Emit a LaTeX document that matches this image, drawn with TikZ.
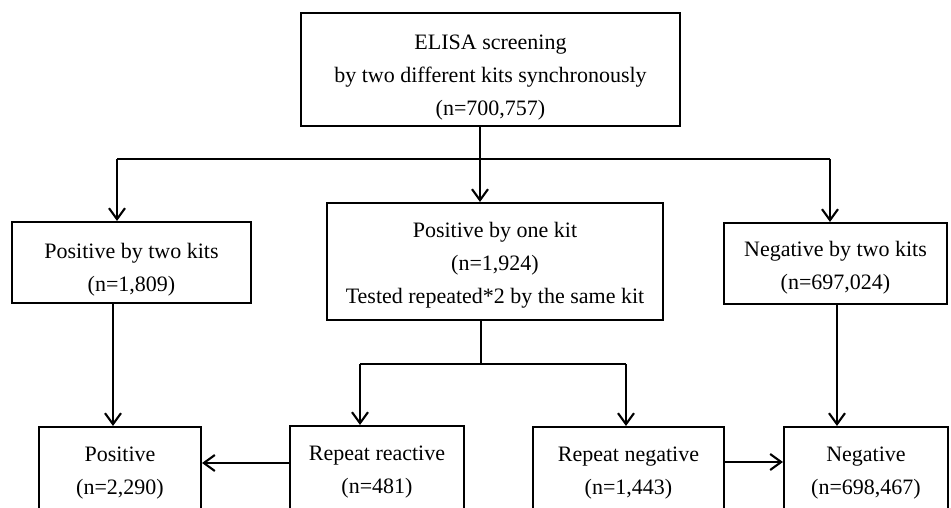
\documentclass[tikz,border=0pt]{standalone}
\usepackage{fontspec}
\setmainfont{Liberation Serif}
\usetikzlibrary{arrows.meta}
\begin{document}
\begin{tikzpicture}[x=1pt,y=-1pt,
  box/.style={draw,line width=2.1pt,rectangle,inner sep=0pt},
  txt/.style={align=center,inner sep=0pt,font=\fontsize{22}{33}\selectfont},
  conn/.style={line width=2.1pt},
  arr/.style={conn,-{Straight Barb[length=11pt,width=16pt,line width=2.1pt]}}]
\useasboundingbox (0,0) rectangle (951,508);
\clip (0,0) rectangle (951,508);
\fill[white] (0,0) rectangle (951,508);
\node[box,minimum width=379pt,minimum height=113pt,
  label={[txt,yshift=-8pt]center:{ELISA screening\\by two different kits synchronously\\(n=700,757)}}] (top) at (490.5,69.5) {};
\node[box,minimum width=239pt,minimum height=81pt,
  label={[txt,yshift=-7pt]center:{Positive by two kits\\(n=1,809)}}] (left) at (131.5,262.5) {};
\node[box,minimum width=336pt,minimum height=117pt,
  label={[txt,yshift=-4pt]center:{Positive by one kit\\(n=1,924)\\Tested repeated*2 by the same kit}}] (mid) at (495,261.5) {};
\node[box,minimum width=223pt,minimum height=81pt,
  label={[txt,yshift=-4.5pt]center:{Negative by two kits\\(n=697,024)}}] (right) at (835.5,263.5) {};
\node[box,minimum width=162pt,minimum height=88pt,
  label={[txt,yshift=-2pt]center:{Positive\\(n=2,290)}}] (pos) at (120,471) {};
\node[box,minimum width=174pt,minimum height=88pt,
  label={[txt,yshift=-2pt]center:{Repeat reactive\\(n=481)}}] (rr) at (377,470) {};
\node[box,minimum width=191pt,minimum height=88pt,
  label={[txt,yshift=-2pt]center:{Repeat negative\\(n=1,443)}}] (rn) at (628.5,471) {};
\node[box,minimum width=164pt,minimum height=88pt,
  label={[txt,yshift=-2pt]center:{Negative\\(n=698,467)}}] (neg) at (866,471) {};
\coordinate (j) at (480,159);
\coordinate (jl) at (117,159);
\coordinate (jr) at (830,159);
\coordinate (ld) at (113,0);
\coordinate (md) at (481,364);
\coordinate (ml) at (360,364);
\coordinate (mr) at (626,364);
\coordinate (rd) at (837,0);
\coordinate (hl) at (0,463);
\coordinate (hr) at (0,462);
\draw[arr] (top.south -| j) -- (mid.north -| j);
\draw[conn] (jl) -- (jr);
\draw[arr] (jl) -- (jl |- left.north);
\draw[arr] (jr) -- (jr |- right.north);
\draw[arr] (left.south -| ld) -- (pos.north -| ld);
\draw[conn] (mid.south -| md) -- (md);
\draw[conn] (ml) -- (mr);
\draw[arr] (ml) -- (ml |- rr.north);
\draw[arr] (mr) -- (mr |- rn.north);
\draw[arr] (right.south -| rd) -- (neg.north -| rd);
\draw[arr] (rr.west |- hl) -- (pos.east |- hl);
\draw[arr] (rn.east |- hr) -- (neg.west |- hr);
\end{tikzpicture}
\end{document}
